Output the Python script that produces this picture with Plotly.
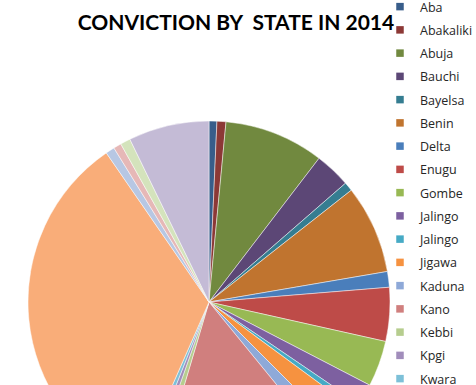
import plotly.graph_objects as go

states = ["Aba", "Abakaliki", "Abuja", "Bauchi", "Bayelsa", "Benin", "Delta", "Enugu",
          "Gombe", "Jalingo", "Jalingo", "Jigawa", "Kaduna", "Kano", "Kebbi", "Kpgi",
          "Kwara", "Lagos", "Makurdi", "Minna", "Osogbo", "Port Harcourt"]
convictions = [7, 8, 89, 32, 8, 79, 14, 48, 41, 19, 6, 24, 16, 155, 8, 6, 6, 338, 8, 7, 9, 72]
colors = ["#385D8A", "#8C3836", "#71893F", "#5C4776", "#357D91", "#C0742F",
          "#4A7EBB", "#BE4B48", "#98B954", "#7D60A0", "#46AAC5", "#F69240",
          "#8EA9D8", "#D07F7E", "#B6CD8E", "#A18DBB", "#7DC0D8", "#F9AD79",
          "#B7C7E3", "#E6B8B7", "#D4E3BC", "#C4BBD6"]
title_text = "CONVICTION BY  STATE IN 2014"

W, H = 476, 560

# unique keys for the pie (two slices share the label "Jalingo")
keys = [s + " " * i for i, s in enumerate(states)]

fig = go.Figure()
fig.add_trace(go.Pie(
    labels=keys, values=convictions, sort=False, direction="clockwise", rotation=0,
    marker=dict(colors=colors, line=dict(color="rgba(255,255,255,0.8)", width=0.6)),
    textinfo="none", hoverinfo="label+value+percent", showlegend=False,
    domain=dict(x=[28 / W, 390 / W], y=[1 - 483 / H, 1 - 121 / H]),
))
for i, (s, c) in enumerate(zip(states, colors)):
    fig.add_trace(go.Scatter(
        x=[None], y=[None], mode="markers", name=s, legendgroup="g%d" % i,
        marker=dict(symbol="square", size=7.5, color=c), showlegend=True,
    ))

fig.update_layout(
    width=W, height=H, margin=dict(l=0, r=0, t=0, b=0, autoexpand=False),
    paper_bgcolor="white", plot_bgcolor="white",
    xaxis=dict(visible=False), yaxis=dict(visible=False),
    title=dict(text="<b>" + title_text + "</b>", x=236 / W, xanchor="center",
               y=1 - 23 / H, yanchor="middle",
               font=dict(family="Lato", size=21, color="black")),
    legend=dict(x=380 / W, xanchor="left", y=1 + 8 / H, yanchor="top", tracegroupgap=4.0,
                maxheight=1200,
                font=dict(family="Open Sans", size=12.5, color="#262626"),
                bgcolor="rgba(0,0,0,0)", borderwidth=0),
)

fig.write_html("out.html", config={"displayModeBar": False},
               post_script="document.body.style.margin='0';document.body.style.overflow='hidden';document.documentElement.style.overflow='hidden';")
